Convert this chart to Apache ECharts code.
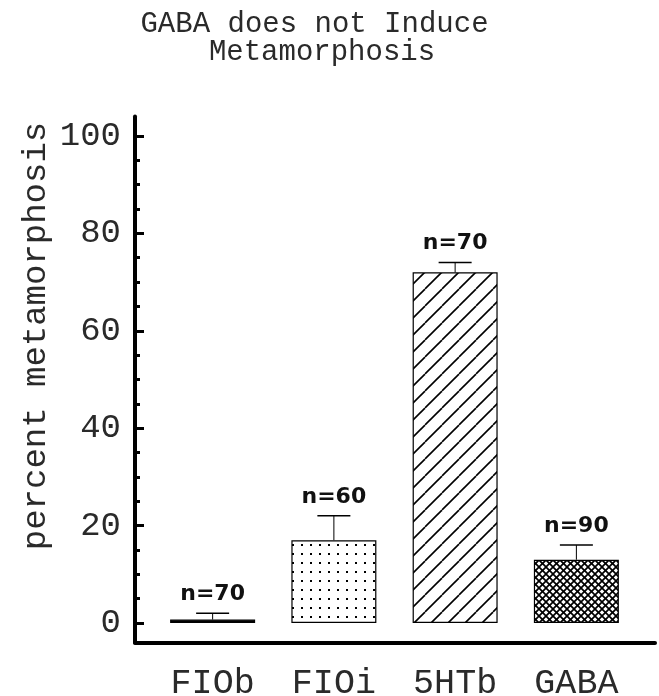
<!DOCTYPE html>
<html>
<head>
<meta charset="utf-8">
<script src="https://cdn.jsdelivr.net/npm/echarts@6/dist/echarts.min.js"></script>
<style>html,body{margin:0;padding:0;background:#fff;}#chart{width:659px;height:696px;}</style>
</head>
<body>
<div id="chart"></div>
<script>
// ---- data ----
const categories = ['FIOb', 'FIOi', '5HTb', 'GABA'];
const means = [0.7, 17, 72, 13];
const errorTops = [2, 22, 74, 16];
const nLabels = ['n=70', 'n=60', 'n=70', 'n=90'];
const majorTicks = [0, 20, 40, 60, 80, 100];
const minorTicks = [5, 10, 15, 25, 30, 35, 45, 50, 55, 65, 70, 75, 85, 90, 95];
const titleLines = ['GABA does not Induce', 'Metamorphosis'];

// ---- patterns ----
function makeCanvas(w, h) { const c = document.createElement('canvas'); c.width = w; c.height = h; return c; }
function solidPattern() { return '#000'; }
function dotPattern() {
  const c = makeCanvas(9, 9); const g = c.getContext('2d');
  g.fillStyle = '#fff'; g.fillRect(0, 0, 9, 9);
  g.fillStyle = '#000'; g.fillRect(4, 4, 2, 2);
  return { image: c, repeat: 'repeat' };
}
function diagPattern() {
  const s = 17; const c = makeCanvas(s, s); const g = c.getContext('2d');
  g.fillStyle = '#fff'; g.fillRect(0, 0, s, s);
  g.strokeStyle = '#000'; g.lineWidth = 1.6;
  for (const o of [-s, 0, s]) { g.beginPath(); g.moveTo(o, s); g.lineTo(o + s, 0); g.stroke(); }
  return { image: c, repeat: 'repeat' };
}
function crossPattern() {
  const s = 7; const c = makeCanvas(s, s); const g = c.getContext('2d');
  g.fillStyle = '#fff'; g.fillRect(0, 0, s, s);
  g.strokeStyle = '#000'; g.lineWidth = 1.7;
  for (const o of [-s, 0, s]) {
    g.beginPath(); g.moveTo(o, s); g.lineTo(o + s, 0); g.stroke();
    g.beginPath(); g.moveTo(o, 0); g.lineTo(o + s, s); g.stroke();
  }
  return { image: c, repeat: 'repeat' };
}
const fills = [solidPattern(), dotPattern(), diagPattern(), crossPattern()];

const MONO = '"Liberation Mono", "DejaVu Sans Mono", monospace';
const TEXT = '#2a2a2a';
const chart = echarts.init(document.getElementById('chart'), null, { renderer: 'canvas' });

const gridTop = 116.5, gridBottom = 53.5;
const titleStyle = { fontFamily: MONO, fontSize: 29, fontWeight: 'normal', color: TEXT };

chart.setOption({
  backgroundColor: '#fff',
  animation: false,
  title: [
    { text: titleLines[0], left: 309.5, top: 5, textAlign: 'center', textStyle: titleStyle },
    { text: titleLines[1], left: 317, top: 33, textAlign: 'center', textStyle: titleStyle }
  ],
  grid: [
    { left: 152, right: 22, top: gridTop, bottom: gridBottom, outerBoundsMode: 'none', containLabel: false },
    { left: 135, right: 4, top: gridTop, bottom: gridBottom, outerBoundsMode: 'none', containLabel: false }
  ],
  xAxis: [
    {
      type: 'category', gridIndex: 0, data: categories,
      axisLine: { show: false }, axisTick: { show: false },
      axisLabel: { fontFamily: MONO, fontSize: 35, color: TEXT, margin: 24 }
    },
    {
      type: 'value', gridIndex: 1, min: 0, max: 1,
      axisLine: { show: true, lineStyle: { color: '#000', width: 4 } },
      axisTick: { show: false }, axisLabel: { show: false }, splitLine: { show: false }
    }
  ],
  yAxis: [
    {
      type: 'value', gridIndex: 0, position: 'left', min: -4, max: 104, offset: 17,
      name: 'percent metamorphosis', nameLocation: 'middle', nameRotate: 90, nameGap: 82,
      nameMoveOverlap: false,
      nameTextStyle: { fontFamily: MONO, fontSize: 34, color: TEXT, padding: [0, 0, 0, 87] },
      axisLine: { show: true, lineStyle: { color: '#000', width: 4 } },
      axisTick: { show: true, inside: true, length: 9, customValues: majorTicks, lineStyle: { color: '#000', width: 3 } },
      axisLabel: { customValues: majorTicks, fontFamily: MONO, fontSize: 34, color: TEXT, margin: 14 },
      splitLine: { show: false }
    },
    {
      type: 'value', gridIndex: 0, position: 'left', min: -4, max: 104, offset: 17,
      axisLine: { show: false },
      axisTick: { show: true, inside: true, length: 5, customValues: minorTicks, lineStyle: { color: '#000', width: 3 } },
      axisLabel: { show: false }, splitLine: { show: false }
    },
    { type: 'value', gridIndex: 1, min: 0, max: 1, show: false }
  ],
  series: [
    {
      type: 'bar', xAxisIndex: 0, yAxisIndex: 0, barWidth: 85,
      data: means.map((v, i) => ({ value: v, itemStyle: { color: fills[i] } })),
      itemStyle: { borderColor: '#000', borderWidth: 1.2 }
    },
    {
      type: 'custom', xAxisIndex: 0, yAxisIndex: 0,
      data: categories.map((c, i) => [i, means[i], errorTops[i]]),
      encode: { x: 0, y: [1, 2] },
      renderItem: function (params, api) {
        const i = api.value(0);
        const p0 = api.coord([i, api.value(1)]);
        const p1 = api.coord([i, api.value(2)]);
        const cap = 16.5;
        return {
          type: 'group', children: [
            { type: 'line', shape: { x1: p0[0], y1: p0[1], x2: p1[0], y2: p1[1] }, style: { stroke: '#000', lineWidth: 1 } },
            { type: 'line', shape: { x1: p1[0] - cap, y1: p1[1], x2: p1[0] + cap, y2: p1[1] }, style: { stroke: '#000', lineWidth: 1.5 } },
            { type: 'text', x: p1[0], y: p1[1] - 19, style: { text: nLabels[params.dataIndex], font: 'bold 22px "DejaVu Sans"', fill: '#111', align: 'center', verticalAlign: 'middle' } }
          ]
        };
      }
    }
  ]
});
</script>
</body>
</html>
